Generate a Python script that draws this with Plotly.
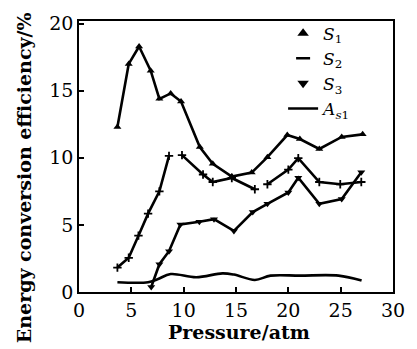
import plotly.graph_objects as go

# S1 (upper curve, triangle-up markers)
s1_x = [3.67, 4.75, 5.74, 6.85, 7.68, 8.76, 9.75, 11.54, 12.78, 14.6, 16.5, 18.0, 19.9, 21.1, 22.96, 25.1, 27.1]
s1_y = [12.3, 17.0, 18.3, 16.5, 14.4, 14.8, 14.2, 10.8, 9.56, 8.6, 8.9, 10.05, 11.7, 11.4, 10.66, 11.56, 11.75]

# S2 (middle curve, dash markers, broken into segments)
s2_x = [3.67, 4.75, 5.68, 6.6, 7.68, 8.6, None, 9.84, 11.85, 12.78, 14.6, 16.8, None,
        18.0, 20.0, 20.95, 22.96, 24.96, 26.97]
s2_y = [1.82, 2.55, 4.2, 5.84, 7.5, 10.15, None, 10.2, 8.76, 8.2, 8.5, 7.66, None,
        8.03, 9.12, 9.98, 8.2, 8.03, 8.2]

# S3 (lower curve, triangle-down markers)
s3_x = [6.9, 7.68, 8.6, 9.69, 11.5, 12.9, 14.8, 16.6, 18.0, 20.0, 20.95, 22.96, 25.1, 26.97]
s3_y = [0.37, 2.07, 3.04, 5.04, 5.23, 5.43, 4.55, 5.96, 6.57, 7.42, 8.52, 6.57, 6.93, 8.93]

# As1 (bottom line)
as_x = [3.67, 6.6, 7.5, 8.76, 11.2, 13.7, 14.8, 16.8, 18.3, 21.1, 24.8, 27.0]
as_y = [0.73, 0.73, 0.95, 1.34, 1.1, 1.39, 1.3, 0.9, 1.22, 1.22, 1.22, 0.85]

x_ticks = [0, 5, 10, 15, 20, 25, 30]
y_ticks = [0, 5, 10, 15, 20]

x_title = "<b>Pressure/atm</b>"
y_title = "<b>Energy conversion efficiency/%</b>"

LW = 2.6
fig = go.Figure()
fig.add_trace(go.Scatter(x=s1_x, y=s1_y, mode="lines+markers", showlegend=False,
                         line=dict(color="black", width=LW),
                         marker=dict(symbol="triangle-up", size=7, color="black")))
fig.add_trace(go.Scatter(x=s2_x, y=s2_y, mode="lines+markers", showlegend=False,
                         line=dict(color="black", width=LW),
                         marker=dict(symbol="cross-thin", size=6, line=dict(color="black", width=1.8))))
fig.add_trace(go.Scatter(x=s3_x, y=s3_y, mode="lines+markers", showlegend=False,
                         line=dict(color="black", width=LW),
                         marker=dict(symbol="triangle-down", size=7, color="black")))
fig.add_trace(go.Scatter(x=as_x, y=as_y, mode="lines", showlegend=False,
                         line=dict(color="black", width=LW, shape="spline")))

# legend entries
fig.add_trace(go.Scatter(x=[None], y=[None], mode="markers", name="<i>S</i><sub>1</sub>",
                         marker=dict(symbol="triangle-up", size=10, color="black")))
fig.add_trace(go.Scatter(x=[None], y=[None], mode="markers", name="<i>S</i><sub>2</sub>",
                         marker=dict(symbol="line-ew", size=10, line=dict(color="black", width=2.5))))
fig.add_trace(go.Scatter(x=[None], y=[None], mode="markers", name="<i>S</i><sub>3</sub>",
                         marker=dict(symbol="triangle-down", size=10, color="black")))
fig.add_trace(go.Scatter(x=[None], y=[None], mode="lines", name="<i>A</i><sub><i>s</i>1</sub>",
                         line=dict(color="black", width=2.5)))

axis_common = dict(showline=True, linecolor="black", linewidth=1.6, mirror=True,
                   ticks="inside", ticklen=5, tickwidth=1.5, tickcolor="black",
                   showgrid=False, zeroline=False,
                   tickfont=dict(family="DejaVu Serif", size=19, color="black"))

title_font = dict(family="DejaVu Serif", size=19, color="black")

fig.update_layout(
    width=417, height=349,
    margin=dict(l=79, r=14, t=15, b=57),
    plot_bgcolor="white", paper_bgcolor="white",
    xaxis=dict(range=[0, 30], tickvals=x_ticks, **axis_common),
    yaxis=dict(range=[0, 20.2], tickvals=y_ticks, **axis_common),
    legend=dict(x=0.65, y=1.02, xanchor="left", yanchor="top",
                bgcolor="rgba(0,0,0,0)", itemwidth=30, tracegroupgap=0,
                font=dict(family="DejaVu Serif", size=17, color="black")),
    annotations=[
        dict(text=x_title, xref="paper", yref="paper", x=0.51, y=-0.148,
             xanchor="center", yanchor="middle", showarrow=False, font=title_font),
        dict(text=y_title, xref="paper", yref="paper", x=-0.175, y=0.42,
             xanchor="center", yanchor="middle", textangle=-90, showarrow=False,
             font=title_font),
    ],
)

fig.write_html("out.html")
